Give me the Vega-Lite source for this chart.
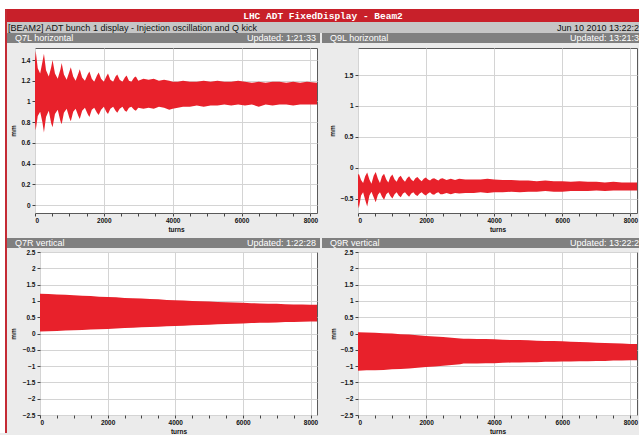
{
  "$schema": "https://vega.github.io/schema/vega-lite/v6.json",
  "padding": 0,
  "background": "#ebebeb",
  "columns": 1,
  "align": "none",
  "spacing": 0,
  "config": {
    "view": {"stroke": null},
    "axis": {"labelFont": "Liberation Sans", "labelFontWeight": "bold", "labelFontSize": 6.5, "labelColor": "#111111", "titleFont": "Liberation Sans", "titleFontWeight": "bold", "titleFontSize": 6.5, "titleColor": "#111111", "domain": false, "tickColor": "#444444", "tickSize": 3, "labelPadding": 2, "gridColor": "#d4d4d4", "gridWidth": 1, "labelOverlap": false},
    "text": {"font": "Liberation Sans"}
  },
  "datasets": {
    "q7l": [
      {"turns": 0, "lo": 0.80, "hi": 1.40}, {"turns": 20, "lo": 0.72, "hi": 1.49}, {"turns": 80, "lo": 0.86, "hi": 1.32}, {"turns": 150, "lo": 0.90, "hi": 1.27},
      {"turns": 215, "lo": 0.80, "hi": 1.38}, {"turns": 260, "lo": 0.70, "hi": 1.46}, {"turns": 320, "lo": 0.85, "hi": 1.30}, {"turns": 400, "lo": 0.91, "hi": 1.24},
      {"turns": 470, "lo": 0.79, "hi": 1.33}, {"turns": 510, "lo": 0.75, "hi": 1.40}, {"turns": 580, "lo": 0.88, "hi": 1.27}, {"turns": 660, "lo": 0.92, "hi": 1.22},
      {"turns": 740, "lo": 0.81, "hi": 1.31}, {"turns": 775, "lo": 0.78, "hi": 1.37}, {"turns": 840, "lo": 0.89, "hi": 1.26}, {"turns": 920, "lo": 0.93, "hi": 1.21},
      {"turns": 1000, "lo": 0.84, "hi": 1.29}, {"turns": 1040, "lo": 0.81, "hi": 1.33}, {"turns": 1110, "lo": 0.90, "hi": 1.24}, {"turns": 1180, "lo": 0.93, "hi": 1.20},
      {"turns": 1260, "lo": 0.86, "hi": 1.27}, {"turns": 1300, "lo": 0.83, "hi": 1.31}, {"turns": 1370, "lo": 0.91, "hi": 1.23}, {"turns": 1450, "lo": 0.94, "hi": 1.20},
      {"turns": 1530, "lo": 0.88, "hi": 1.26}, {"turns": 1580, "lo": 0.85, "hi": 1.29}, {"turns": 1650, "lo": 0.92, "hi": 1.22}, {"turns": 1720, "lo": 0.94, "hi": 1.19},
      {"turns": 1800, "lo": 0.89, "hi": 1.25}, {"turns": 1850, "lo": 0.87, "hi": 1.28}, {"turns": 1920, "lo": 0.92, "hi": 1.22}, {"turns": 2000, "lo": 0.95, "hi": 1.19},
      {"turns": 2070, "lo": 0.90, "hi": 1.24}, {"turns": 2120, "lo": 0.88, "hi": 1.27}, {"turns": 2190, "lo": 0.93, "hi": 1.21}, {"turns": 2270, "lo": 0.95, "hi": 1.19},
      {"turns": 2340, "lo": 0.91, "hi": 1.24}, {"turns": 2390, "lo": 0.89, "hi": 1.26}, {"turns": 2460, "lo": 0.93, "hi": 1.21}, {"turns": 2540, "lo": 0.95, "hi": 1.19},
      {"turns": 2610, "lo": 0.91, "hi": 1.23}, {"turns": 2660, "lo": 0.90, "hi": 1.25}, {"turns": 2730, "lo": 0.94, "hi": 1.20}, {"turns": 2800, "lo": 0.95, "hi": 1.19},
      {"turns": 2880, "lo": 0.92, "hi": 1.23}, {"turns": 2930, "lo": 0.91, "hi": 1.24}, {"turns": 3000, "lo": 0.94, "hi": 1.20}, {"turns": 3150, "lo": 0.93, "hi": 1.22},
      {"turns": 3300, "lo": 0.94, "hi": 1.21}, {"turns": 3450, "lo": 0.93, "hi": 1.22}, {"turns": 3600, "lo": 0.95, "hi": 1.20}, {"turns": 3750, "lo": 0.94, "hi": 1.21},
      {"turns": 3900, "lo": 0.92, "hi": 1.20}, {"turns": 4000, "lo": 0.93, "hi": 1.19}, {"turns": 4150, "lo": 0.94, "hi": 1.19}, {"turns": 4300, "lo": 0.95, "hi": 1.20},
      {"turns": 4500, "lo": 0.95, "hi": 1.19}, {"turns": 4700, "lo": 0.96, "hi": 1.19}, {"turns": 4900, "lo": 0.95, "hi": 1.20}, {"turns": 5100, "lo": 0.96, "hi": 1.19},
      {"turns": 5300, "lo": 0.96, "hi": 1.20}, {"turns": 5500, "lo": 0.97, "hi": 1.19}, {"turns": 5700, "lo": 0.96, "hi": 1.19}, {"turns": 5900, "lo": 0.97, "hi": 1.20},
      {"turns": 6100, "lo": 0.96, "hi": 1.19}, {"turns": 6300, "lo": 0.97, "hi": 1.18}, {"turns": 6500, "lo": 0.95, "hi": 1.19}, {"turns": 6700, "lo": 0.97, "hi": 1.18},
      {"turns": 6900, "lo": 0.96, "hi": 1.19}, {"turns": 7100, "lo": 0.97, "hi": 1.19}, {"turns": 7300, "lo": 0.97, "hi": 1.18}, {"turns": 7500, "lo": 0.96, "hi": 1.19},
      {"turns": 7700, "lo": 0.97, "hi": 1.18}, {"turns": 7900, "lo": 0.97, "hi": 1.19}, {"turns": 8192, "lo": 0.97, "hi": 1.18}
    ],
    "q9l": [
      {"turns": 0, "lo": -0.60, "hi": -0.12}, {"turns": 25, "lo": -0.66, "hi": -0.10}, {"turns": 90, "lo": -0.45, "hi": -0.20}, {"turns": 150, "lo": -0.40, "hi": -0.25},
      {"turns": 210, "lo": -0.52, "hi": -0.14}, {"turns": 270, "lo": -0.63, "hi": -0.08}, {"turns": 335, "lo": -0.45, "hi": -0.19}, {"turns": 395, "lo": -0.39, "hi": -0.26},
      {"turns": 460, "lo": -0.48, "hi": -0.13}, {"turns": 520, "lo": -0.56, "hi": -0.07}, {"turns": 585, "lo": -0.44, "hi": -0.18}, {"turns": 645, "lo": -0.40, "hi": -0.25},
      {"turns": 705, "lo": -0.47, "hi": -0.14}, {"turns": 765, "lo": -0.52, "hi": -0.10}, {"turns": 830, "lo": -0.43, "hi": -0.19}, {"turns": 890, "lo": -0.40, "hi": -0.24},
      {"turns": 950, "lo": -0.46, "hi": -0.15}, {"turns": 1010, "lo": -0.50, "hi": -0.11}, {"turns": 1075, "lo": -0.43, "hi": -0.19}, {"turns": 1135, "lo": -0.40, "hi": -0.23},
      {"turns": 1195, "lo": -0.45, "hi": -0.16}, {"turns": 1255, "lo": -0.48, "hi": -0.13}, {"turns": 1320, "lo": -0.42, "hi": -0.19}, {"turns": 1380, "lo": -0.40, "hi": -0.23},
      {"turns": 1440, "lo": -0.44, "hi": -0.17}, {"turns": 1500, "lo": -0.47, "hi": -0.14}, {"turns": 1565, "lo": -0.42, "hi": -0.19}, {"turns": 1625, "lo": -0.40, "hi": -0.22},
      {"turns": 1685, "lo": -0.44, "hi": -0.17}, {"turns": 1745, "lo": -0.46, "hi": -0.15}, {"turns": 1810, "lo": -0.42, "hi": -0.19}, {"turns": 1870, "lo": -0.40, "hi": -0.22},
      {"turns": 1930, "lo": -0.43, "hi": -0.18}, {"turns": 1990, "lo": -0.45, "hi": -0.16}, {"turns": 2055, "lo": -0.42, "hi": -0.19}, {"turns": 2115, "lo": -0.40, "hi": -0.21},
      {"turns": 2175, "lo": -0.43, "hi": -0.18}, {"turns": 2235, "lo": -0.44, "hi": -0.17}, {"turns": 2300, "lo": -0.41, "hi": -0.19}, {"turns": 2360, "lo": -0.40, "hi": -0.21},
      {"turns": 2420, "lo": -0.43, "hi": -0.18}, {"turns": 2480, "lo": -0.43, "hi": -0.17}, {"turns": 2600, "lo": -0.41, "hi": -0.20}, {"turns": 2725, "lo": -0.43, "hi": -0.18},
      {"turns": 2850, "lo": -0.41, "hi": -0.20}, {"turns": 2970, "lo": -0.42, "hi": -0.18}, {"turns": 3150, "lo": -0.41, "hi": -0.19}, {"turns": 3400, "lo": -0.41, "hi": -0.19},
      {"turns": 3600, "lo": -0.40, "hi": -0.19}, {"turns": 3800, "lo": -0.41, "hi": -0.18}, {"turns": 4000, "lo": -0.40, "hi": -0.19}, {"turns": 4250, "lo": -0.40, "hi": -0.20},
      {"turns": 4500, "lo": -0.39, "hi": -0.20}, {"turns": 4750, "lo": -0.40, "hi": -0.21}, {"turns": 5000, "lo": -0.39, "hi": -0.21}, {"turns": 5250, "lo": -0.39, "hi": -0.22},
      {"turns": 5500, "lo": -0.38, "hi": -0.21}, {"turns": 5750, "lo": -0.39, "hi": -0.22}, {"turns": 6000, "lo": -0.39, "hi": -0.22}, {"turns": 6250, "lo": -0.38, "hi": -0.23},
      {"turns": 6500, "lo": -0.38, "hi": -0.22}, {"turns": 6750, "lo": -0.38, "hi": -0.23}, {"turns": 7000, "lo": -0.37, "hi": -0.23}, {"turns": 7250, "lo": -0.38, "hi": -0.24},
      {"turns": 7500, "lo": -0.37, "hi": -0.23}, {"turns": 7750, "lo": -0.37, "hi": -0.24}, {"turns": 8000, "lo": -0.37, "hi": -0.24}, {"turns": 8192, "lo": -0.37, "hi": -0.24}
    ],
    "q7r": [
      {"turns": 0, "lo": 0.06, "hi": 1.22}, {"turns": 250, "lo": 0.07, "hi": 1.21}, {"turns": 500, "lo": 0.08, "hi": 1.20}, {"turns": 750, "lo": 0.09, "hi": 1.19},
      {"turns": 1000, "lo": 0.10, "hi": 1.17}, {"turns": 1250, "lo": 0.11, "hi": 1.16}, {"turns": 1500, "lo": 0.12, "hi": 1.15}, {"turns": 1750, "lo": 0.13, "hi": 1.13},
      {"turns": 2000, "lo": 0.14, "hi": 1.12}, {"turns": 2250, "lo": 0.15, "hi": 1.11}, {"turns": 2500, "lo": 0.17, "hi": 1.09}, {"turns": 2750, "lo": 0.18, "hi": 1.08},
      {"turns": 3000, "lo": 0.19, "hi": 1.07}, {"turns": 3250, "lo": 0.20, "hi": 1.06}, {"turns": 3500, "lo": 0.21, "hi": 1.05}, {"turns": 3750, "lo": 0.22, "hi": 1.03},
      {"turns": 4000, "lo": 0.23, "hi": 1.02}, {"turns": 4250, "lo": 0.24, "hi": 1.01}, {"turns": 4500, "lo": 0.25, "hi": 1.00}, {"turns": 4750, "lo": 0.26, "hi": 0.99},
      {"turns": 5000, "lo": 0.27, "hi": 0.98}, {"turns": 5250, "lo": 0.28, "hi": 0.97}, {"turns": 5500, "lo": 0.29, "hi": 0.96}, {"turns": 5750, "lo": 0.30, "hi": 0.95},
      {"turns": 6000, "lo": 0.31, "hi": 0.94}, {"turns": 6250, "lo": 0.32, "hi": 0.93}, {"turns": 6500, "lo": 0.33, "hi": 0.92}, {"turns": 6750, "lo": 0.33, "hi": 0.91},
      {"turns": 7000, "lo": 0.34, "hi": 0.91}, {"turns": 7250, "lo": 0.35, "hi": 0.90}, {"turns": 7500, "lo": 0.35, "hi": 0.89}, {"turns": 7750, "lo": 0.36, "hi": 0.89},
      {"turns": 8000, "lo": 0.37, "hi": 0.88}, {"turns": 8192, "lo": 0.37, "hi": 0.88}
    ],
    "q9r": [
      {"turns": 0, "lo": -1.14, "hi": 0.04}, {"turns": 250, "lo": -1.13, "hi": 0.03}, {"turns": 500, "lo": -1.13, "hi": 0.02}, {"turns": 750, "lo": -1.12, "hi": 0.01},
      {"turns": 1000, "lo": -1.10, "hi": 0.00}, {"turns": 1250, "lo": -1.09, "hi": -0.02}, {"turns": 1500, "lo": -1.07, "hi": -0.03}, {"turns": 1750, "lo": -1.05, "hi": -0.05},
      {"turns": 2000, "lo": -1.03, "hi": -0.08}, {"turns": 2250, "lo": -1.01, "hi": -0.09}, {"turns": 2500, "lo": -0.99, "hi": -0.11}, {"turns": 2750, "lo": -0.97, "hi": -0.13},
      {"turns": 3000, "lo": -0.94, "hi": -0.15}, {"turns": 3100, "lo": -0.92, "hi": -0.16}, {"turns": 3250, "lo": -0.92, "hi": -0.16}, {"turns": 3500, "lo": -0.92, "hi": -0.17},
      {"turns": 3750, "lo": -0.91, "hi": -0.17}, {"turns": 4000, "lo": -0.91, "hi": -0.18}, {"turns": 4250, "lo": -0.90, "hi": -0.19}, {"turns": 4500, "lo": -0.89, "hi": -0.20},
      {"turns": 4750, "lo": -0.89, "hi": -0.20}, {"turns": 5000, "lo": -0.88, "hi": -0.21}, {"turns": 5250, "lo": -0.88, "hi": -0.22}, {"turns": 5500, "lo": -0.87, "hi": -0.23},
      {"turns": 5750, "lo": -0.87, "hi": -0.23}, {"turns": 6000, "lo": -0.86, "hi": -0.24}, {"turns": 6250, "lo": -0.86, "hi": -0.25}, {"turns": 6500, "lo": -0.85, "hi": -0.26},
      {"turns": 6750, "lo": -0.85, "hi": -0.27}, {"turns": 7000, "lo": -0.84, "hi": -0.28}, {"turns": 7250, "lo": -0.84, "hi": -0.29}, {"turns": 7500, "lo": -0.83, "hi": -0.30},
      {"turns": 7750, "lo": -0.83, "hi": -0.31}, {"turns": 8000, "lo": -0.82, "hi": -0.32}, {"turns": 8192, "lo": -0.82, "hi": -0.32}
    ]
  },
  "concat": [
    {"width": 639, "height": 9, "view": {"fill": "white", "stroke": null}, "data": {"values": [{}]}, "mark": {"type": "text", "text": "", "fontSize": 1}},
    {
      "columns": 3, "align": "none", "spacing": 0,
      "concat": [
        {"width": 5, "height": 424, "view": {"fill": "white", "stroke": null}, "data": {"values": [{}]}, "mark": {"type": "text", "text": "", "fontSize": 1}},
        {"width": 2, "height": 424, "view": {"fill": "#c42a34", "stroke": null}, "data": {"values": [{}]}, "mark": {"type": "text", "text": "", "fontSize": 1}},
        {
          "columns": 1, "align": "none", "spacing": 0,
          "concat": [
            {
              "width": 632, "height": 13, "view": {"fill": "#c8202a", "stroke": null},
              "data": {"values": [{"t": "LHC ADT FixedDisplay - Beam2"}]},
              "mark": {"type": "text", "font": "Liberation Mono", "fontSize": 9.5, "fontWeight": "bold", "color": "white"},
              "encoding": {"text": {"field": "t"}}
            },
            {
              "width": 632, "height": 11, "view": {"fill": "#c6c6c6", "stroke": null},
              "data": {"values": [{"left": "[BEAM2] ADT bunch 1 display - Injection oscillation and Q kick", "right": "Jun 10 2010 13:22:2"}]},
              "layer": [
                {"mark": {"type": "text", "align": "left", "dx": 1, "fontSize": 9, "color": "#111111"},
                 "encoding": {"x": {"datum": 0, "type": "quantitative", "scale": {"domain": [0, 1]}, "axis": null}, "text": {"field": "left"}}},
                {"mark": {"type": "text", "align": "right", "dx": 0, "fontSize": 9, "color": "#111111"},
                 "encoding": {"x": {"datum": 1, "type": "quantitative"}, "text": {"field": "right"}}}
              ]
            },
            {
              "columns": 1, "align": "none", "spacing": 4,
              "concat": [
                {
                  "columns": 2, "align": "none", "spacing": 2,
                  "concat": [
                    {
                      "columns": 1, "align": "none", "spacing": 4,
                      "concat": [
                        {
                          "width": 313, "height": 10, "view": {"fill": "#808080", "stroke": null},
                          "data": {"values": [{"name": "Q7L horizontal", "upd": "Updated: 1:21:33"}]},
                          "layer": [
                            {"mark": {"type": "text", "align": "left", "dx": 8, "fontSize": 9, "color": "white"},
                             "encoding": {"x": {"datum": 0, "type": "quantitative", "scale": {"domain": [0, 1]}, "axis": null}, "text": {"field": "name"}}},
                            {"mark": {"type": "text", "align": "right", "dx": -4, "fontSize": 9, "color": "white"},
                             "encoding": {"x": {"datum": 1, "type": "quantitative"}, "text": {"field": "upd"}}}
                          ]
                        },
                        {
                          "columns": 2, "align": "none", "spacing": 0,
                          "concat": [
                            {"width": 1, "height": 1, "data": {"values": [{}]}, "mark": {"type": "text", "text": "", "fontSize": 1}},
                            {
                              "width": 282, "height": 165, "view": {"fill": "white", "stroke": "#5a5a5a", "strokeWidth": 1},
                              "data": {"name": "q7l"},
                              "mark": {"type": "area", "color": "#e8212b", "clip": true},
                              "encoding": {
                                "x": {"field": "turns", "type": "quantitative", "scale": {"domain": [0, 8192], "nice": false},
                                      "axis": {"title": "turns", "values": [0, 500, 1000, 1500, 2000, 2500, 3000, 3500, 4000, 4500, 5000, 5500, 6000, 6500, 7000, 7500, 8000], "format": "d", "labelExpr": "datum.value % 2000 === 0 ? datum.label : ''", "gridOpacity": {"condition": {"test": "datum.value % 2000 === 0", "value": 1}, "value": 0}, "labelPadding": 1, "titlePadding": 3}},
                                "y": {"field": "lo", "type": "quantitative", "scale": {"domain": [-0.077, 1.516], "nice": false, "zero": false},
                                      "axis": {"title": ["", "mm"], "values": [0, 0.2, 0.4, 0.6, 0.8, 1, 1.2, 1.4], "format": "~g", "minExtent": 14, "maxExtent": 14, "titlePadding": 4.6, "titleLineHeight": 1.9}},
                                "y2": {"field": "hi"}
                              }
                            }
                          ]
                        }
                      ]
                    },
                    {
                      "columns": 1, "align": "none", "spacing": 4,
                      "concat": [
                        {
                          "width": 317, "height": 10, "view": {"fill": "#808080", "stroke": null},
                          "data": {"values": [{"name": "Q9L horizontal", "upd": "Updated: 13:21:3"}]},
                          "layer": [
                            {"mark": {"type": "text", "align": "left", "dx": 8, "fontSize": 9, "color": "white"},
                             "encoding": {"x": {"datum": 0, "type": "quantitative", "scale": {"domain": [0, 1]}, "axis": null}, "text": {"field": "name"}}},
                            {"mark": {"type": "text", "align": "right", "dx": 0, "fontSize": 9, "color": "white"},
                             "encoding": {"x": {"datum": 1, "type": "quantitative"}, "text": {"field": "upd"}}}
                          ]
                        },
                        {
                          "columns": 2, "align": "none", "spacing": 0,
                          "concat": [
                            {"width": 1, "height": 1, "data": {"values": [{}]}, "mark": {"type": "text", "text": "", "fontSize": 1}},
                            {
                              "width": 279, "height": 165, "view": {"fill": "white", "stroke": "#5a5a5a", "strokeWidth": 1},
                              "data": {"name": "q9l"},
                              "mark": {"type": "area", "color": "#e8212b", "clip": true},
                              "encoding": {
                                "x": {"field": "turns", "type": "quantitative", "scale": {"domain": [0, 8192], "nice": false},
                                      "axis": {"title": "turns", "values": [0, 500, 1000, 1500, 2000, 2500, 3000, 3500, 4000, 4500, 5000, 5500, 6000, 6500, 7000, 7500, 8000], "format": "d", "labelExpr": "datum.value % 2000 === 0 ? datum.label : ''", "gridOpacity": {"condition": {"test": "datum.value % 2000 === 0", "value": 1}, "value": 0}, "labelPadding": 1, "titlePadding": 3}},
                                "y": {"field": "lo", "type": "quantitative", "scale": {"domain": [-0.735, 1.94], "nice": false, "zero": false},
                                      "axis": {"title": ["", "mm"], "values": [-0.5, 0, 0.5, 1, 1.5], "format": "~g", "minExtent": 18, "maxExtent": 18, "titlePadding": 4.5, "titleLineHeight": 5.3}},
                                "y2": {"field": "hi"}
                              }
                            }
                          ]
                        }
                      ]
                    }
                  ]
                },
                {
                  "columns": 2, "align": "none", "spacing": 2,
                  "concat": [
                    {
                      "columns": 1, "align": "none", "spacing": 0,
                      "concat": [
                        {
                          "width": 313, "height": 10, "view": {"fill": "#808080", "stroke": null},
                          "data": {"values": [{"name": "Q7R vertical", "upd": "Updated: 1:22:28"}]},
                          "layer": [
                            {"mark": {"type": "text", "align": "left", "dx": 8, "fontSize": 9, "color": "white"},
                             "encoding": {"x": {"datum": 0, "type": "quantitative", "scale": {"domain": [0, 1]}, "axis": null}, "text": {"field": "name"}}},
                            {"mark": {"type": "text", "align": "right", "dx": -4, "fontSize": 9, "color": "white"},
                             "encoding": {"x": {"datum": 1, "type": "quantitative"}, "text": {"field": "upd"}}}
                          ]
                        },
                        {
                          "columns": 2, "align": "none", "spacing": 0,
                          "concat": [
                            {"width": 1, "height": 1, "data": {"values": [{}]}, "mark": {"type": "text", "text": "", "fontSize": 1}},
                            {
                              "width": 277, "height": 163, "view": {"fill": "white", "stroke": "#5a5a5a", "strokeWidth": 1},
                              "data": {"name": "q7r"},
                              "mark": {"type": "area", "color": "#e8212b", "clip": true},
                              "encoding": {
                                "x": {"field": "turns", "type": "quantitative", "scale": {"domain": [0, 8192], "nice": false},
                                      "axis": {"title": "turns", "values": [0, 500, 1000, 1500, 2000, 2500, 3000, 3500, 4000, 4500, 5000, 5500, 6000, 6500, 7000, 7500, 8000], "format": "d", "labelExpr": "datum.value % 2000 === 0 ? datum.label : ''", "gridOpacity": {"condition": {"test": "datum.value % 2000 === 0", "value": 1}, "value": 0}, "labelPadding": 1, "titlePadding": 3}},
                                "y": {"field": "lo", "type": "quantitative", "scale": {"domain": [-2.5, 2.5], "nice": false, "zero": false},
                                      "axis": {"title": ["", "mm"], "values": [-2.5, -2, -1.5, -1, -0.5, 0, 0.5, 1, 1.5, 2, 2.5], "format": "~g", "minExtent": 18, "maxExtent": 18, "titlePadding": 5.6, "titleLineHeight": 1.9}},
                                "y2": {"field": "hi"}
                              }
                            }
                          ]
                        }
                      ]
                    },
                    {
                      "columns": 1, "align": "none", "spacing": 0,
                      "concat": [
                        {
                          "width": 317, "height": 10, "view": {"fill": "#808080", "stroke": null},
                          "data": {"values": [{"name": "Q9R vertical", "upd": "Updated: 13:22:2"}]},
                          "layer": [
                            {"mark": {"type": "text", "align": "left", "dx": 8, "fontSize": 9, "color": "white"},
                             "encoding": {"x": {"datum": 0, "type": "quantitative", "scale": {"domain": [0, 1]}, "axis": null}, "text": {"field": "name"}}},
                            {"mark": {"type": "text", "align": "right", "dx": 0, "fontSize": 9, "color": "white"},
                             "encoding": {"x": {"datum": 1, "type": "quantitative"}, "text": {"field": "upd"}}}
                          ]
                        },
                        {
                          "columns": 2, "align": "none", "spacing": 0,
                          "concat": [
                            {"width": 1, "height": 1, "data": {"values": [{}]}, "mark": {"type": "text", "text": "", "fontSize": 1}},
                            {
                              "width": 279, "height": 163, "view": {"fill": "white", "stroke": "#5a5a5a", "strokeWidth": 1},
                              "data": {"name": "q9r"},
                              "mark": {"type": "area", "color": "#e8212b", "clip": true},
                              "encoding": {
                                "x": {"field": "turns", "type": "quantitative", "scale": {"domain": [0, 8192], "nice": false},
                                      "axis": {"title": "turns", "values": [0, 500, 1000, 1500, 2000, 2500, 3000, 3500, 4000, 4500, 5000, 5500, 6000, 6500, 7000, 7500, 8000], "format": "d", "labelExpr": "datum.value % 2000 === 0 ? datum.label : ''", "gridOpacity": {"condition": {"test": "datum.value % 2000 === 0", "value": 1}, "value": 0}, "labelPadding": 1, "titlePadding": 3}},
                                "y": {"field": "lo", "type": "quantitative", "scale": {"domain": [-2.5, 2.5], "nice": false, "zero": false},
                                      "axis": {"title": ["", "mm"], "values": [-2.5, -2, -1.5, -1, -0.5, 0, 0.5, 1, 1.5, 2, 2.5], "format": "~g", "minExtent": 18, "maxExtent": 18, "titlePadding": 3.5, "titleLineHeight": 6.3}},
                                "y2": {"field": "hi"}
                              }
                            }
                          ]
                        }
                      ]
                    }
                  ]
                }
              ]
            }
          ]
        }
      ]
    }
  ]
}
